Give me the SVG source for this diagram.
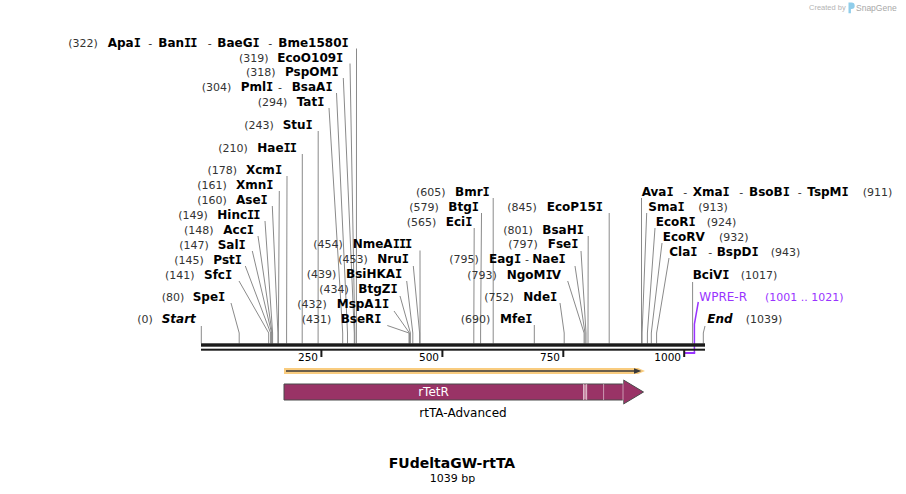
<svg xmlns="http://www.w3.org/2000/svg" width="906" height="494" viewBox="0 0 906 494">
<style>
text{font-family:"DejaVu Sans",Verdana,sans-serif}
.n{font-size:11px;fill:#333}
.b{font-size:12px;font-weight:bold;fill:#000}
.bi{font-size:12px;font-weight:bold;font-style:italic;fill:#000}
.i{font-family:"DejaVu Sans Mono",monospace;letter-spacing:-1px}
.ln{stroke:#8a8a8a;stroke-width:1;fill:none}
.tk{font-size:10.5px;fill:#000;text-anchor:end}
.pu{fill:#9933ff}
.dot{stroke:#fff;stroke-width:1;stroke-dasharray:1 1}
</style>
<rect width="906" height="494" fill="#fff"/>
<g id="logo">
<text x="809" y="10" style="font-family:'Liberation Sans',Arial,sans-serif;font-size:7.5px;fill:#b4b4b4">Created by</text>
<path d="M848.5,2.5 h3 a3.2,3.2 0 0 1 0,6.4 h-0.6 v4.4 h-2.4 z" fill="#8fcdea"/>
<text x="856" y="10.5" style="font-family:'Liberation Sans',Arial,sans-serif;font-size:8.5px;fill:#a8a8a8">SnapGene</text>
</g>
<g id="connectors">
<polyline class="ln" points="356.5,48.5 356.4,343.5"/>
<polyline class="ln" points="350,63.5 354.8,333 354.8,343.5"/>
<polyline class="ln" points="343.3,78 354.3,333 354.3,343.5"/>
<polyline class="ln" points="336.5,93 347.5,333 347.5,343.5"/>
<polyline class="ln" points="329,108 342.7,333 342.7,343.5"/>
<polyline class="ln" points="318.2,131 318.1,343.5"/>
<polyline class="ln" points="302.3,154 302.2,343.5"/>
<polyline class="ln" points="287,176 286.6,333 286.6,343.5"/>
<polyline class="ln" points="279.3,191 278.4,333 278.4,343.5"/>
<polyline class="ln" points="272.3,206 277.9,333 277.9,343.5"/>
<polyline class="ln" points="265,221 272.6,333 272.6,343.5"/>
<polyline class="ln" points="258,236 272.1,333 272.1,343.5"/>
<polyline class="ln" points="252.3,251 271.6,333 271.6,343.5"/>
<polyline class="ln" points="245.3,266 270.6,333 270.6,343.5"/>
<polyline class="ln" points="239,281 268.7,333 268.7,343.5"/>
<polyline class="ln" points="231,303 239.2,333 239.2,343.5"/>
<polyline class="ln" points="201.3,326 201.3,343.5"/>
<polyline class="ln" points="420,250.5 420.1,343.5"/>
<polyline class="ln" points="413.3,266 419.6,333 419.6,343.5"/>
<polyline class="ln" points="406.7,281 412.8,333 412.8,343.5"/>
<polyline class="ln" points="400,296 410.4,333 410.4,343.5"/>
<polyline class="ln" points="394,311 409.5,333 409.5,343.5"/>
<polyline class="ln" points="387.3,325.5 409,333 409,343.5"/>
<polyline class="ln" points="493.2,198 493.2,343.5"/>
<polyline class="ln" points="481.5,213 480.6,333 480.6,343.5"/>
<polyline class="ln" points="474.2,228 473.8,333 473.8,343.5"/>
<polyline class="ln" points="609.2,213 609.2,343.5"/>
<polyline class="ln" points="588.2,236 588,333 588,343.5"/>
<polyline class="ln" points="581,251 586,333 586,343.5"/>
<polyline class="ln" points="575,266 585,333 585,343.5"/>
<polyline class="ln" points="567.7,281 584.1,333 584.1,343.5"/>
<polyline class="ln" points="560,303 564.2,333 564.2,343.5"/>
<polyline class="ln" points="534.3,325 534.3,343.5"/>
<polyline class="ln" points="641.5,198 641.5,343.5"/>
<polyline class="ln" points="646.7,213 642.1,333 642.1,343.5"/>
<polyline class="ln" points="655,228 647.4,333 647.4,343.5"/>
<polyline class="ln" points="662,243 651.3,333 651.3,343.5"/>
<polyline class="ln" points="669,258 656.6,333 656.6,343.5"/>
<polyline class="ln" points="692.6,282 692.6,343.5"/>
<polyline class="ln" points="705,326 703.3,333 703.3,343.5"/>
<polyline points="698.3,302 694.4,324 694.4,353" fill="none" stroke="#9933ff" stroke-width="1.5"/>
<line x1="684.2" y1="353" x2="695.2" y2="353" stroke="#9933ff" stroke-width="2"/>
</g>
<g id="ruler">
<rect x="201" y="343.3" width="504" height="3.4" fill="#1a1a1a"/>
<rect x="201" y="348.7" width="504" height="2" fill="#1a1a1a"/>
<rect x="320.4" y="350" width="2" height="7" fill="#1a1a1a"/>
<rect x="441.4" y="350" width="2" height="7" fill="#1a1a1a"/>
<rect x="562.3" y="350" width="2" height="7" fill="#1a1a1a"/>
<rect x="683.2" y="350" width="2" height="7" fill="#1a1a1a"/>
<text class="tk" x="318" y="361">250</text>
<text class="tk" x="439" y="361">500</text>
<text class="tk" x="560" y="361">750</text>
<text class="tk" x="681" y="361">1000</text>
</g>
<g id="orf">
<path d="M284,368 H638 L645,371 L638,374 H284 Z" fill="#f9cc7f"/>
<line x1="286" y1="371" x2="637" y2="371" stroke="#3a3a3a" stroke-width="1.6"/>
<path d="M634,368.3 L641.5,371 L634,373.7 Z" fill="#3a3a3a"/>
</g>
<g id="rTetR">
<path d="M284,384 H623.5 V380 L643.5,392 L623.5,404 V400 H284 Z" fill="#993366" stroke="#4a4a4a" stroke-width="1"/>
<rect x="583.3" y="384.5" width="3.6" height="15" fill="#c98ba6"/>
<line class="dot" x1="583.5" y1="384.5" x2="583.5" y2="399.5"/>
<line class="dot" x1="586.7" y1="384.5" x2="586.7" y2="399.5"/>
<line class="dot" x1="603.6" y1="384.5" x2="603.6" y2="399.5"/>
<line class="dot" x1="623" y1="380.5" x2="623" y2="403.5"/>
<text x="433.5" y="396" text-anchor="middle" style="font-size:12px;fill:#fff">rTetR</text>
<text x="463" y="416.5" text-anchor="middle" style="font-size:12px;fill:#000">rtTA-Advanced</text>
</g>
<g id="title">
<text x="452" y="467.7" text-anchor="middle" style="font-size:14px;font-weight:bold;fill:#000">FUdeltaGW-rtTA</text>
<text x="452.5" y="481.7" text-anchor="middle" style="font-size:11px;fill:#000">1039 bp</text>
</g>
<g id="site-322"><text y="46.7"><tspan class="n" x="68.3">(322)</tspan><tspan class="b" x="107.7">Apa<tspan class="i">I</tspan></tspan><tspan class="n" x="148.3">-</tspan><tspan class="b" x="158.3">Ban<tspan class="i">II</tspan></tspan><tspan class="n" x="207.7">-</tspan><tspan class="b" x="217.3">BaeG<tspan class="i">I</tspan></tspan><tspan class="n" x="268.3">-</tspan><tspan class="b" x="278.3">Bme1580<tspan class="i">I</tspan></tspan></text></g>
<g id="site-319"><text y="61.7"><tspan class="n" x="239">(319)</tspan><tspan class="b" x="277.3">EcoO109<tspan class="i">I</tspan></tspan></text></g>
<g id="site-318"><text y="76.3"><tspan class="n" x="246">(318)</tspan><tspan class="b" x="285">PspOM<tspan class="i">I</tspan></tspan></text></g>
<g id="site-304"><text y="91.2"><tspan class="n" x="201.7">(304)</tspan><tspan class="b" x="240.7">Pml<tspan class="i">I</tspan></tspan><tspan class="n" x="278">-</tspan><tspan class="b" x="291.7">BsaA<tspan class="i">I</tspan></tspan></text></g>
<g id="site-294"><text y="106"><tspan class="n" x="257.7">(294)</tspan><tspan class="b" x="296.7">Tat<tspan class="i">I</tspan></tspan></text></g>
<g id="site-243"><text y="129"><tspan class="n" x="244.3">(243)</tspan><tspan class="b" x="282.7">Stu<tspan class="i">I</tspan></tspan></text></g>
<g id="site-210"><text y="151.7"><tspan class="n" x="218.3">(210)</tspan><tspan class="b" x="257.3">Hae<tspan class="i">II</tspan></tspan></text></g>
<g id="site-178"><text y="173.5"><tspan class="n" x="207.5">(178)</tspan><tspan class="b" x="246">Xcm<tspan class="i">I</tspan></tspan></text></g>
<g id="site-161"><text y="188.5"><tspan class="n" x="197.3">(161)</tspan><tspan class="b" x="236">Xmn<tspan class="i">I</tspan></tspan></text></g>
<g id="site-160"><text y="203.5"><tspan class="n" x="197.3">(160)</tspan><tspan class="b" x="236">Ase<tspan class="i">I</tspan></tspan></text></g>
<g id="site-149"><text y="218.5"><tspan class="n" x="178.3">(149)</tspan><tspan class="b" x="217.3">Hinc<tspan class="i">II</tspan></tspan></text></g>
<g id="site-148"><text y="233.5"><tspan class="n" x="184">(148)</tspan><tspan class="b" x="223.3">Acc<tspan class="i">I</tspan></tspan></text></g>
<g id="site-147"><text y="248.7"><tspan class="n" x="179.3">(147)</tspan><tspan class="b" x="217.7">Sal<tspan class="i">I</tspan></tspan></text></g>
<g id="site-145"><text y="263.7"><tspan class="n" x="174.3">(145)</tspan><tspan class="b" x="213.3">Pst<tspan class="i">I</tspan></tspan></text></g>
<g id="site-141"><text y="278.5"><tspan class="n" x="165">(141)</tspan><tspan class="b" x="204">Sfc<tspan class="i">I</tspan></tspan></text></g>
<g id="site-80"><text y="300.7"><tspan class="n" x="161.7">(80)</tspan><tspan class="b" x="192.7">Spe<tspan class="i">I</tspan></tspan></text></g>
<g id="site-0"><text y="323.3"><tspan class="n" x="137.3">(0)</tspan><tspan class="bi" x="161.7">Start</tspan></text></g>
<g id="site-454"><text y="248.3"><tspan class="n" x="313.3">(454)</tspan><tspan class="b" x="352.7">NmeA<tspan class="i">III</tspan></tspan></text></g>
<g id="site-453"><text y="263.3"><tspan class="n" x="338.3">(453)</tspan><tspan class="b" x="377.3">Nru<tspan class="i">I</tspan></tspan></text></g>
<g id="site-439"><text y="278.3"><tspan class="n" x="306.7">(439)</tspan><tspan class="b" x="346">BsiHKA<tspan class="i">I</tspan></tspan></text></g>
<g id="site-434"><text y="293.3"><tspan class="n" x="319.3">(434)</tspan><tspan class="b" x="358.3">BtgZ<tspan class="i">I</tspan></tspan></text></g>
<g id="site-432"><text y="308.3"><tspan class="n" x="297.3">(432)</tspan><tspan class="b" x="336.7">MspA1<tspan class="i">I</tspan></tspan></text></g>
<g id="site-431"><text y="323.3"><tspan class="n" x="301.7">(431)</tspan><tspan class="b" x="340.7">BseR<tspan class="i">I</tspan></tspan></text></g>
<g id="site-605"><text y="196"><tspan class="n" x="416">(605)</tspan><tspan class="b" x="455">Bmr<tspan class="i">I</tspan></tspan></text></g>
<g id="site-579"><text y="211"><tspan class="n" x="409.3">(579)</tspan><tspan class="b" x="448.3">Btg<tspan class="i">I</tspan></tspan></text></g>
<g id="site-565"><text y="226"><tspan class="n" x="406.7">(565)</tspan><tspan class="b" x="445.7">Eci<tspan class="i">I</tspan></tspan></text></g>
<g id="site-845"><text y="211"><tspan class="n" x="507.3">(845)</tspan><tspan class="b" x="546.7">EcoP15<tspan class="i">I</tspan></tspan></text></g>
<g id="site-801"><text y="234"><tspan class="n" x="503.3">(801)</tspan><tspan class="b" x="542.3">BsaH<tspan class="i">I</tspan></tspan></text></g>
<g id="site-797"><text y="248.3"><tspan class="n" x="508.3">(797)</tspan><tspan class="b" x="547.7">Fse<tspan class="i">I</tspan></tspan></text></g>
<g id="site-795"><text y="263.3"><tspan class="n" x="449.3">(795)</tspan><tspan class="b" x="489">Eag<tspan class="i">I</tspan></tspan><tspan class="n" x="525">-</tspan><tspan class="b" x="532.3">Nae<tspan class="i">I</tspan></tspan></text></g>
<g id="site-793"><text y="278.7"><tspan class="n" x="467.3">(793)</tspan><tspan class="b" x="506.7">NgoM<tspan class="i">I</tspan>V</tspan></text></g>
<g id="site-752"><text y="300.7"><tspan class="n" x="484.3">(752)</tspan><tspan class="b" x="523.3">Nde<tspan class="i">I</tspan></tspan></text></g>
<g id="site-690"><text y="323"><tspan class="n" x="460.7">(690)</tspan><tspan class="b" x="500">Mfe<tspan class="i">I</tspan></tspan></text></g>
<g id="site-911"><text y="195.7"><tspan class="b" x="641.7">Ava<tspan class="i">I</tspan></tspan><tspan class="n" x="683.3">-</tspan><tspan class="b" x="692.7">Xma<tspan class="i">I</tspan></tspan><tspan class="n" x="739.3">-</tspan><tspan class="b" x="749">BsoB<tspan class="i">I</tspan></tspan><tspan class="n" x="797.7">-</tspan><tspan class="b" x="807.3">TspM<tspan class="i">I</tspan></tspan><tspan class="n" x="862.7">(911)</tspan></text></g>
<g id="site-913"><text y="210.7"><tspan class="b" x="648.3">Sma<tspan class="i">I</tspan></tspan><tspan class="n" x="698.3">(913)</tspan></text></g>
<g id="site-924"><text y="225.7"><tspan class="b" x="655.7">EcoR<tspan class="i">I</tspan></tspan><tspan class="n" x="706.7">(924)</tspan></text></g>
<g id="site-932"><text y="240.7"><tspan class="b" x="662.7">EcoRV</tspan><tspan class="n" x="719">(932)</tspan></text></g>
<g id="site-943"><text y="255.7"><tspan class="b" x="669.3">Cla<tspan class="i">I</tspan></tspan><tspan class="n" x="708.3">-</tspan><tspan class="b" x="716.7">BspD<tspan class="i">I</tspan></tspan><tspan class="n" x="770.7">(943)</tspan></text></g>
<g id="site-1017"><text y="279"><tspan class="b" x="692.7">BciV<tspan class="i">I</tspan></tspan><tspan class="n" x="740.7">(1017)</tspan></text></g>
<g id="primer-WPRE-R"><text y="300.7"><tspan class="pu" x="699.3" style="font-size:12px">WPRE-R</tspan><tspan class="pu" x="765" style="font-size:11px">(1001 .. 1021)</tspan></text></g>
<g id="site-1039"><text y="323.3"><tspan class="bi" x="707.3">End</tspan><tspan class="n" x="745.7">(1039)</tspan></text></g>
</svg>
